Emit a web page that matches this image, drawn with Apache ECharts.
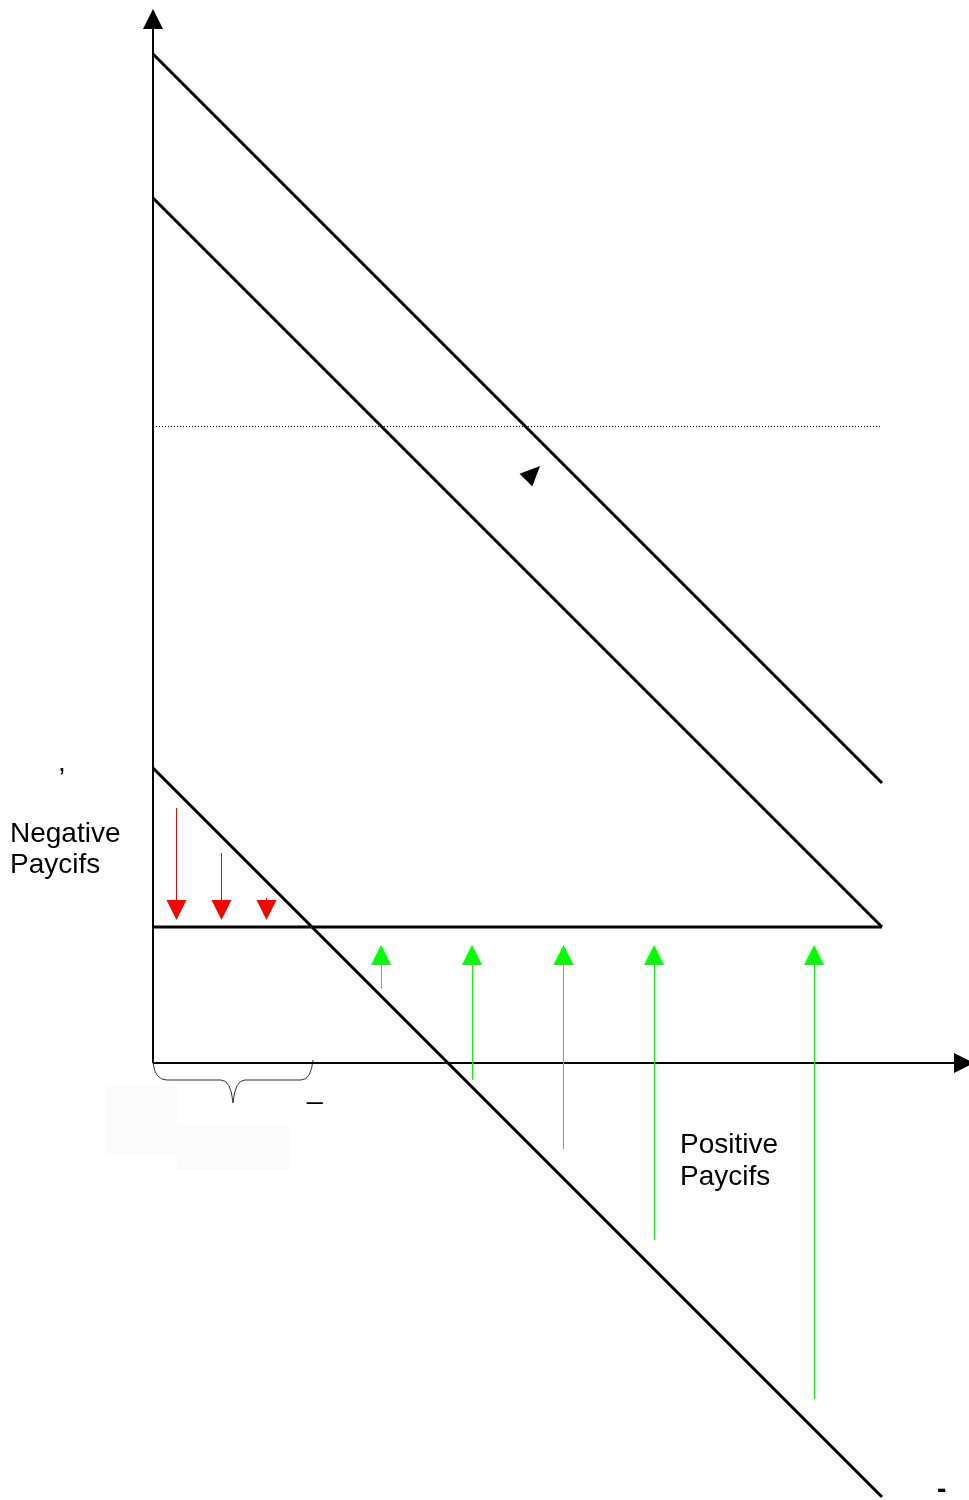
<!DOCTYPE html>
<html>
<head>
<meta charset="utf-8">
<title>Payoffs</title>
<script src="https://cdn.jsdelivr.net/npm/echarts@6/dist/echarts.min.js"></script>
<style>
  html, body { margin: 0; padding: 0; background: #fff; }
  #main { width: 969px; height: 1500px; }
</style>
</head>
<body>
<div id="main"></div>
<script>
// axis ranges (origin at the corner of the two axes)
const xRange = [0, 816];
const yRange = [-437, 1063];
const axisTips = [821, 1054]; // x arrow tip, y arrow tip

// the three diagonals: y at x = 0 and at x = lineEnd
const lineEnd = 729;
const upperLine = [1009, 280];
const middleLine = [865, 136];
const lowerLine = [295, -434];
const floorLevel = 136;
const dottedLevel = 636.5;

// red (negative) and green (positive) payoff arrows
const redX = [23.5, 68.5, 113.5];
const redFrom = [255, 210, 165];
const redTip = 143;
const greenX = [228, 319, 410.5, 501, 661];
const greenFrom = [74, -17, -86, -177, -336];
const greenTip = 118;

const markerPoint = [380, 590];
const braceRange = [0, 160];

const HEAD = 20;
const FONT = '28px "Liberation Sans", Arial, sans-serif';

const chart = echarts.init(document.getElementById('main'));

function segment(name, y0, y1, width, type) {
  return {
    name: name,
    type: 'line',
    symbol: 'none',
    silent: true,
    clip: false,
    lineStyle: { color: '#000', width: width, type: type || 'solid' },
    data: [[0, y0], [lineEnd, y1]]
  };
}

function arrow(from, to, color, width) {
  const ls = { color: color, width: width, type: 'solid' };
  return [
    { coord: from, lineStyle: ls, itemStyle: { color: color } },
    { coord: to, lineStyle: ls, itemStyle: { color: color } }
  ];
}

// the end point is the head's centre, so pull it back half a head
const arrowLines = [
  arrow([0, 0], [axisTips[0] - HEAD / 2, 0], '#000', 2),
  arrow([0, 0], [0, axisTips[1] - HEAD / 2], '#000', 2)
];
redX.forEach((x, i) => {
  arrowLines.push(arrow([x, redFrom[i]], [x, redTip + HEAD / 2], '#ff0000', 1));
});
greenX.forEach((x, i) => {
  arrowLines.push(arrow([x, greenFrom[i]], [x, greenTip - HEAD / 2], '#00ff00', 1));
});

const option = {
  animation: false,
  backgroundColor: '#fff',
  grid: { left: 153, right: 0, top: 0, bottom: 0 },
  xAxis: {
    type: 'value', min: xRange[0], max: xRange[1],
    axisLine: { show: false }, axisTick: { show: false },
    axisLabel: { show: false }, splitLine: { show: false }
  },
  yAxis: {
    type: 'value', min: yRange[0], max: yRange[1],
    axisLine: { show: false }, axisTick: { show: false },
    axisLabel: { show: false }, splitLine: { show: false }
  },
  series: [
    segment('upper', upperLine[0], upperLine[1], 3),
    segment('middle', middleLine[0], middleLine[1], 3),
    segment('lower', lowerLine[0], lowerLine[1], 3),
    segment('floor', floorLevel, floorLevel, 3),
    segment('dotted', dottedLevel, dottedLevel, 1, [1, 2]),
    {
      name: 'arrows',
      type: 'line',
      data: [],
      clip: false,
      silent: true,
      markLine: {
        silent: true,
        animation: false,
        symbol: ['none', 'triangle'],
        symbolSize: HEAD,
        lineStyle: { type: 'solid' },
        label: { show: false },
        emphasis: { disabled: true },
        data: arrowLines
      }
    },
    {
      name: 'marker',
      type: 'scatter',
      silent: true,
      clip: false,
      symbol: 'triangle',
      symbolSize: [18, 20],
      symbolRotate: -45,
      itemStyle: { color: '#000', opacity: 1 },
      data: [markerPoint]
    }
  ]
};
chart.setOption(option);

// brace under the x axis, placed from braceRange
const p0 = chart.convertToPixel({ gridIndex: 0 }, [braceRange[0], 0]);
const p1 = chart.convertToPixel({ gridIndex: 0 }, [braceRange[1], 0]);
const bx0 = p0[0], bx1 = p1[0], by = p0[1], mid = (bx0 + bx1) / 2;
const braceStyle = { fill: 'none', stroke: '#333', lineWidth: 1 };
function curve(x1, y1, cx, cy, x2, y2) {
  return { type: 'bezierCurve', shape: { x1: x1, y1: y1, cpx1: cx, cpy1: cy, x2: x2, y2: y2 }, style: braceStyle };
}
function straight(x1, y1, x2, y2) {
  return { type: 'line', shape: { x1: x1, y1: y1, x2: x2, y2: y2 }, style: braceStyle };
}
const lo = by + 17;
const brace = [
  curve(bx0, by, bx0 + 2, lo, bx0 + 14, lo),
  straight(bx0 + 14, lo, mid - 12, lo),
  curve(mid - 12, lo, mid - 2, lo, mid, by + 40),
  curve(mid, by + 40, mid + 2, lo, mid + 12, lo),
  straight(mid + 12, lo, bx1 - 12, lo),
  curve(bx1 - 12, lo, bx1 - 2, lo, bx1, by - 3)
];

chart.setOption({
  graphic: [
    { type: 'rect', z: -10, shape: { x: 107, y: 1085, width: 70, height: 70 }, style: { fill: '#fbfbfb' } },
    { type: 'rect', z: -10, shape: { x: 177, y: 1125, width: 113, height: 45 }, style: { fill: '#fbfbfb' } }
  ].concat(brace, [
    { type: 'text', x: 10, y: 819, style: { text: 'Negative\nPaycifs', font: FONT, lineHeight: 31, fill: '#000', align: 'left', verticalAlign: 'top' } },
    { type: 'text', x: 680, y: 1129, style: { text: 'Positive\nPaycifs', font: FONT, lineHeight: 32, fill: '#000', align: 'left', verticalAlign: 'top' } },
    { type: 'text', x: 58, y: 749, style: { text: ',', font: FONT, fill: '#000', align: 'left', verticalAlign: 'top' } },
    { type: 'text', x: 307, y: 1076, style: { text: '_', font: FONT, fill: '#000', align: 'left', verticalAlign: 'top' } },
    { type: 'text', x: 937, y: 1476, style: { text: '-', font: 'bold ' + FONT, fill: '#000', align: 'left', verticalAlign: 'top' } }
  ])
});
</script>
</body>
</html>
